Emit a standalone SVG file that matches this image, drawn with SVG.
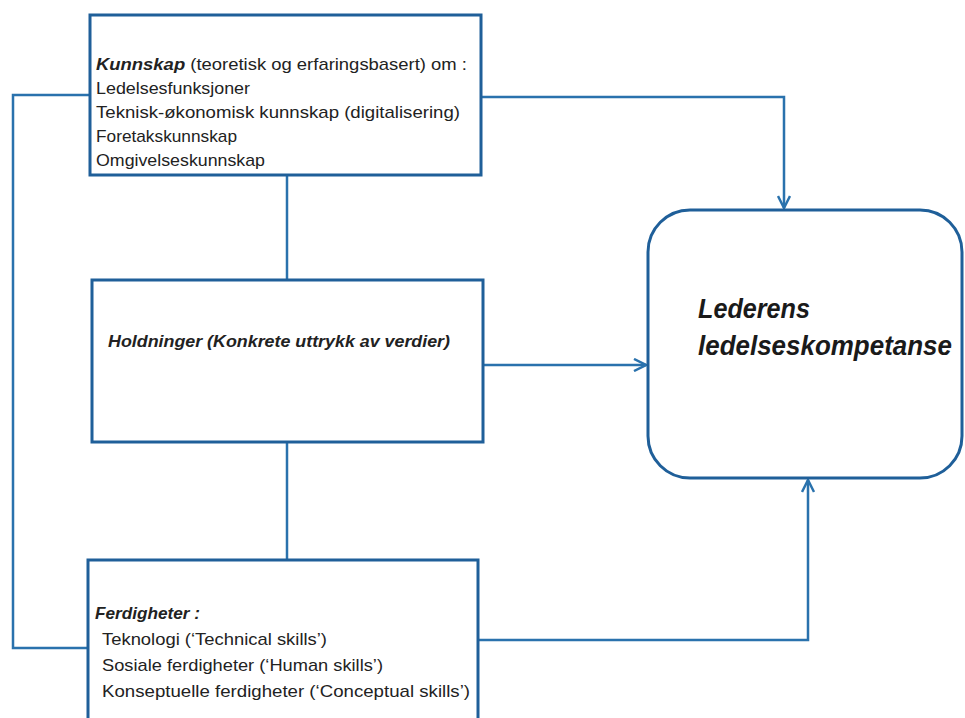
<svg xmlns="http://www.w3.org/2000/svg" width="965" height="718" viewBox="0 0 965 718">
<style>
.box{fill:#fff;stroke:#1f5f99;stroke-width:3}
.con{fill:none;stroke:#2a72ad;stroke-width:2.5}
.t{font-family:"Liberation Sans",Arial,sans-serif;font-size:17px;fill:#222}
.bi{font-weight:bold;font-style:italic}
.big{font-family:"Liberation Sans",Arial,sans-serif;font-size:27px;font-weight:bold;font-style:italic;fill:#1a1a1a}
</style>
<defs>
<marker id="arr" viewBox="0 0 14 14" refX="13" refY="7" markerWidth="14" markerHeight="14" markerUnits="userSpaceOnUse" orient="auto">
<path d="M1,1 L13,7 L1,13" fill="none" stroke="#2a72ad" stroke-width="2.5"/>
</marker>
</defs>
<rect width="965" height="718" fill="#fff"/>
<g id="connectors">
<polyline class="con" points="90,95 13,95 13,648 88,648"/>
<line class="con" x1="287" y1="175" x2="287" y2="280"/>
<line class="con" x1="287" y1="442" x2="287" y2="560"/>
<polyline class="con" points="481,97 784,97 784,208" marker-end="url(#arr)"/>
<line class="con" x1="483" y1="365" x2="646" y2="365" marker-end="url(#arr)"/>
<polyline class="con" points="478,640 808,640 808,480" marker-end="url(#arr)"/>
</g>
<g id="kunnskap">
<rect class="box" x="90" y="15" width="391" height="160"/>
<text class="t" x="96" y="70" textLength="371" lengthAdjust="spacingAndGlyphs"><tspan class="bi">Kunnskap</tspan>  (teoretisk og erfaringsbasert) om :</text>
<text class="t" x="96" y="94" textLength="154" lengthAdjust="spacingAndGlyphs">Ledelsesfunksjoner</text>
<text class="t" x="96" y="118" textLength="364" lengthAdjust="spacingAndGlyphs">Teknisk-økonomisk  kunnskap  (digitalisering)</text>
<text class="t" x="96" y="142" textLength="141" lengthAdjust="spacingAndGlyphs">Foretakskunnskap</text>
<text class="t" x="96" y="166" textLength="169" lengthAdjust="spacingAndGlyphs">Omgivelseskunnskap</text>
</g>
<g id="holdninger">
<rect class="box" x="92" y="280" width="391" height="162"/>
<text class="t bi" x="108" y="347" textLength="342" lengthAdjust="spacingAndGlyphs">Holdninger  (Konkrete uttrykk av verdier)</text>
</g>
<g id="ferdigheter">
<rect class="box" x="88" y="560" width="390" height="175"/>
<text class="t bi" x="95" y="619" textLength="105" lengthAdjust="spacingAndGlyphs">Ferdigheter :</text>
<text class="t" x="102" y="645" textLength="225" lengthAdjust="spacingAndGlyphs">Teknologi (‘Technical skills’)</text>
<text class="t" x="102" y="671" textLength="281" lengthAdjust="spacingAndGlyphs">Sosiale ferdigheter (‘Human  skills’)</text>
<text class="t" x="102" y="697" textLength="368" lengthAdjust="spacingAndGlyphs">Konseptuelle  ferdigheter (‘Conceptual skills’)</text>
</g>
<g id="lederens">
<rect class="box" x="648" y="210" width="314" height="268" rx="42" ry="42"/>
<text class="big" x="698" y="318" textLength="112" lengthAdjust="spacingAndGlyphs">Lederens</text>
<text class="big" x="698" y="355" textLength="254" lengthAdjust="spacingAndGlyphs">ledelseskompetanse</text>
</g>
</svg>
